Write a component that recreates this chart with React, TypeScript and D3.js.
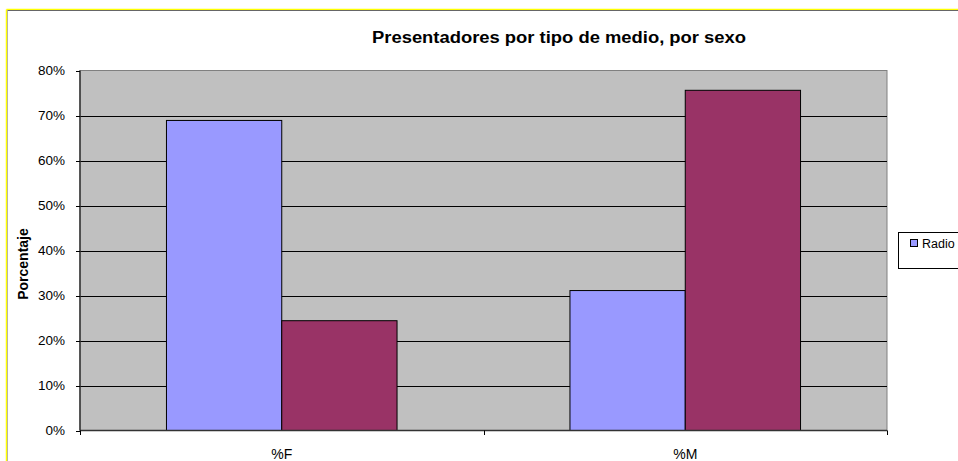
import React from "react";
import * as d3 from "d3";

// Share of presenters by sex, per media type
const categories = ["%F", "%M"];
const seriesNames = ["Radio", "Televisión"];
const radioValues = [0.689, 0.311];
const tvValues = [0.244, 0.756];
const yTicks = [0, 0.1, 0.2, 0.3, 0.4, 0.5, 0.6, 0.7, 0.8];
const legendItems = ["Radio"];

const seriesValues = [radioValues, tvValues];
const seriesColors = ["#9999FF", "#993366"];

const W = 958;
const H = 461;
const plot = { left: 80, right: 887, top: 70.5, bottom: 430.5 };
const FONT = "'Liberation Sans', Arial, sans-serif";

export default function App() {
  const x0 = d3
    .scaleBand<string>()
    .domain(categories)
    .range([plot.left, plot.right])
    .padding(0);
  const x1 = d3
    .scaleBand<string>()
    .domain(seriesNames)
    .range([0, x0.bandwidth()])
    .paddingInner(0)
    .paddingOuter(0.75);
  const y = d3.scaleLinear().domain([0, 0.8]).range([plot.bottom, plot.top]);
  const fmt = d3.format(".0%");

  const catBounds = [plot.left, ...categories.map((c) => (x0(c) as number) + x0.bandwidth())];

  return (
    <svg
      width={W}
      height={H}
      style={{ position: "absolute", left: 0, top: 0, background: "#fff" }}
      fontFamily={FONT}
    >
      {/* chart frame */}
      <line x1={6.5} y1={9.5} x2={W} y2={9.5} stroke="#FFFF00" strokeWidth={1.5} />
      <line x1={6.5} y1={9.5} x2={6.5} y2={H} stroke="#FFFF00" strokeWidth={1.5} />
      <line x1={7.5} y1={10.5} x2={W} y2={10.5} stroke="#666" strokeWidth={1} />
      <line x1={7.5} y1={10.5} x2={7.5} y2={H} stroke="#888" strokeWidth={1} opacity={0.6} />

      {/* title */}
      <text
        x={559}
        y={43}
        textAnchor="middle"
        fontSize={16}
        fontWeight="bold"
        fill="#000"
        textLength={374}
        lengthAdjust="spacingAndGlyphs"
      >
        Presentadores por tipo de medio, por sexo
      </text>

      {/* plot area */}
      <rect
        x={plot.left}
        y={plot.top}
        width={plot.right - plot.left}
        height={plot.bottom - plot.top}
        fill="#C0C0C0"
        stroke="#808080"
        strokeWidth={1}
      />

      {/* gridlines */}
      {yTicks
        .filter((t) => t > 0 && t < 0.8)
        .map((t) => (
          <line
            key={t}
            x1={plot.left}
            x2={plot.right}
            y1={Math.round(y(t)) + 0.5}
            y2={Math.round(y(t)) + 0.5}
            stroke="#000"
            strokeWidth={1}
          />
        ))}

      {/* bars */}
      {categories.map((c, ci) => (
        <g key={c} transform={`translate(${x0(c)},0)`}>
          {seriesNames.map((s, si) => {
            const v = seriesValues[si][ci];
            return (
              <rect
                key={s}
                x={x1(s)}
                y={y(v)}
                width={x1.bandwidth()}
                height={y(0) - y(v)}
                fill={seriesColors[si]}
                stroke="#000"
                strokeWidth={1}
              />
            );
          })}
        </g>
      ))}

      {/* axes */}
      <line x1={plot.left} y1={plot.top} x2={plot.left} y2={plot.bottom} stroke="#333" strokeWidth={1.5} />
      <line x1={plot.left} y1={plot.bottom} x2={plot.right} y2={plot.bottom} stroke="#333" strokeWidth={1.5} />
      {yTicks.map((t) => (
        <g key={t}>
          <line
            x1={plot.left - 4}
            x2={plot.left}
            y1={Math.round(y(t)) + 0.5}
            y2={Math.round(y(t)) + 0.5}
            stroke="#000"
            strokeWidth={1}
          />
          <text
            x={65}
            y={y(t)}
            dy="0.35em"
            textAnchor="end"
            fontSize={13.5}
            fill="#000"
          >
            {fmt(t)}
          </text>
        </g>
      ))}
      {catBounds.map((b, i) => (
        <line
          key={i}
          x1={Math.round(b) + 0.5}
          x2={Math.round(b) + 0.5}
          y1={plot.bottom}
          y2={plot.bottom + 4.5}
          stroke="#000"
          strokeWidth={1}
        />
      ))}
      {categories.map((c) => (
        <text
          key={c}
          x={(x0(c) as number) + x0.bandwidth() / 2}
          y={459}
          textAnchor="middle"
          fontSize={14}
          fill="#000"
        >
          {c}
        </text>
      ))}

      {/* y-axis title */}
      <text
        transform="translate(28,264) rotate(-90)"
        textAnchor="middle"
        fontSize={14}
        fontWeight="bold"
        fill="#000"
      >
        Porcentaje
      </text>

      {/* legend */}
      <rect x={898.5} y={232.5} width={80} height={36} fill="#fff" stroke="#000" strokeWidth={1} />
      {legendItems.map((name, i) => (
        <g key={name} transform={`translate(0,${i * 15})`}>
          <rect x={910.5} y={239.5} width={7} height={7} fill={seriesColors[i]} stroke="#000" strokeWidth={1} />
          <text x={922} y={248.3} fontSize={12.5} fill="#000">
            {name}
          </text>
        </g>
      ))}
    </svg>
  );
}
